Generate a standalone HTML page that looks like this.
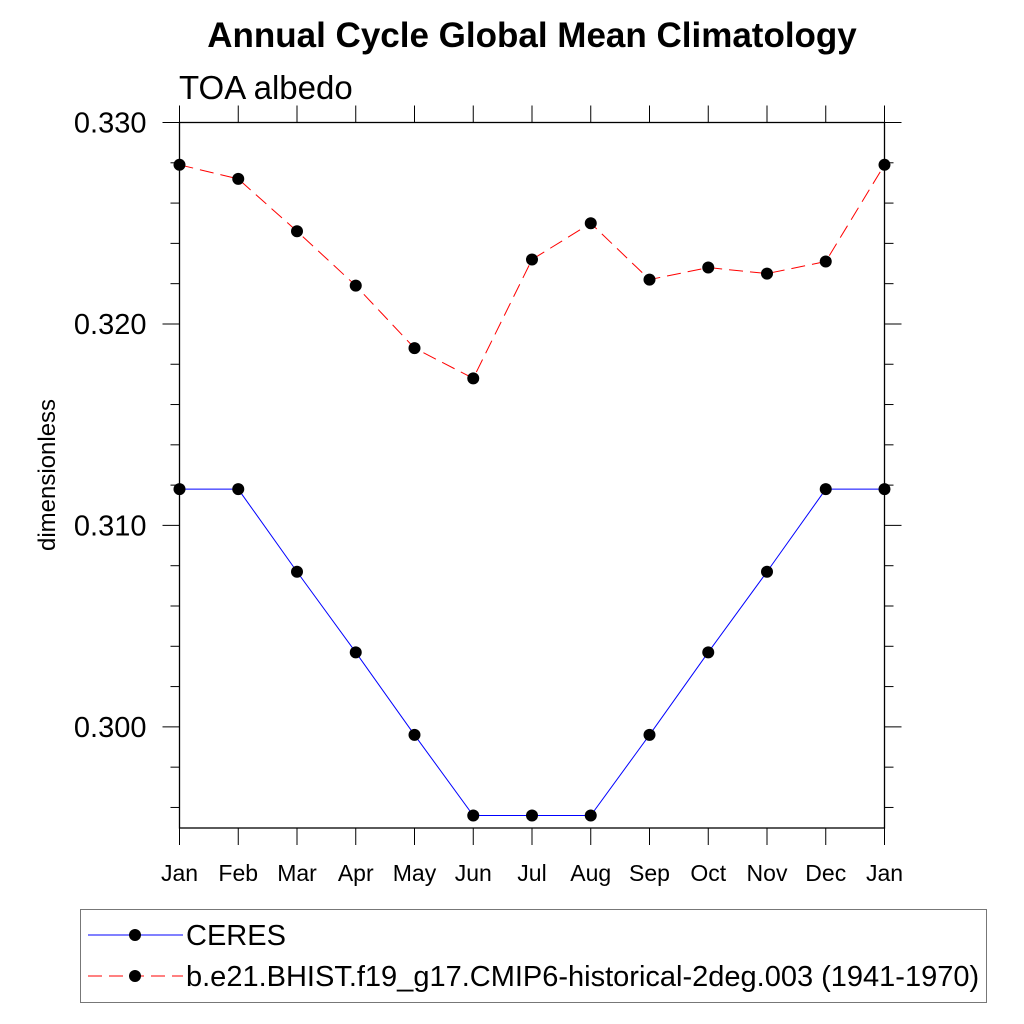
<!DOCTYPE html>
<html><head><meta charset="utf-8"><style>
html,body{margin:0;padding:0;background:#fff}
svg{display:block;font-family:"Liberation Sans",sans-serif}
</style></head><body>
<svg id="chart" width="1024" height="1024" xmlns="http://www.w3.org/2000/svg">
<text x="532" y="47" text-anchor="middle" font-size="35" font-weight="bold">Annual Cycle Global Mean Climatology</text>
<text x="179" y="99" font-size="33">TOA albedo</text>
<text transform="translate(55,475) rotate(-90)" text-anchor="middle" font-size="24">dimensionless</text>
<g id="axes"></g>
<g id="series"></g>
<g>
<rect x="80.5" y="909.5" width="906" height="93" fill="none" stroke="#777" stroke-width="1"/>
<line x1="88" y1="935" x2="183" y2="935" stroke="blue" stroke-width="1"/>
<circle cx="135" cy="935" r="6" fill="#000"/>
<text x="186" y="945" font-size="29">CERES</text>
<line x1="88" y1="976" x2="183" y2="976" stroke="red" stroke-width="1" stroke-dasharray="14,7"/>
<circle cx="135" cy="976" r="6" fill="#000"/>
<text x="186" y="986" font-size="29">b.e21.BHIST.f19_g17.CMIP6-historical-2deg.003 (1941-1970)</text>
</g>
</svg>
<script>
const months = ["Jan","Feb","Mar","Apr","May","Jun","Jul","Aug","Sep","Oct","Nov","Dec","Jan"];
const ceresValues = [0.3118,0.3118,0.3077,0.3037,0.2996,0.2956,0.2956,0.2956,0.2996,0.3037,0.3077,0.3118,0.3118];
const modelValues = [0.3279,0.3272,0.3246,0.3219,0.3188,0.3173,0.3232,0.3250,0.3222,0.3228,0.3225,0.3231,0.3279];
const yTickLabels = ["0.300","0.310","0.320","0.330"];
const yTickValues = [0.300,0.310,0.320,0.330];
const yMin = 0.29498, yMax = 0.330;

const L=179.5,R=884.5,T=122.5,B=828;
const NS="http://www.w3.org/2000/svg";
function xs(i){return L+(R-L)*i/(months.length-1);}
function ys(v){return B-(v-yMin)/(yMax-yMin)*(B-T);}
function mk(tag,attrs,parent){const e=document.createElementNS(NS,tag);for(const k in attrs)e.setAttribute(k,attrs[k]);parent.appendChild(e);return e;}
const ax=document.getElementById('axes');
const frame=mk('rect',{x:L,y:T,width:R-L,height:B-T,fill:'none',stroke:'#000','stroke-width':1.3},ax);


for(let v=0.296;v<0.3301;v+=0.002){
  const y=ys(v);
  const isMajor=yTickValues.some(t=>Math.abs(t-v)<1e-6);
  const len=isMajor?17:9;
  const t1=mk('line',{x1:L-len,y1:y,x2:L,y2:y,stroke:'#000','stroke-width':1},ax);
  
  
  const t2=mk('line',{x1:R,y1:y,x2:R+len,y2:y,stroke:'#000','stroke-width':1},ax);
  
  
}
yTickValues.forEach((v,i)=>{
  const t=mk('text',{x:L-33,y:ys(v)+10,'text-anchor':'end','font-size':29},ax);
  t.textContent=yTickLabels[i];
  
  
});
months.forEach((m,i)=>{
  const x=xs(i);
  const b=mk('line',{x1:x,y1:B,x2:x,y2:B+17,stroke:'#000','stroke-width':1},ax);
  
  
  const t=mk('line',{x1:x,y1:T-17,x2:x,y2:T,stroke:'#000','stroke-width':1},ax);
  
  
  const l=mk('text',{x:x,y:881,'text-anchor':'middle','font-size':23},ax);
  l.textContent=m;
  
  
});
const sg=document.getElementById('series');
function drawSeries(vals,color,dash,name){
  const pts=vals.map((v,i)=>xs(i)+','+ys(v)).join(' ');
  const pl=mk('polyline',{points:pts,fill:'none',stroke:color,'stroke-width':1,'stroke-dasharray':dash},sg);
  
  
  vals.forEach((v,i)=>{
    const c=mk('circle',{cx:xs(i),cy:ys(v),r:6,fill:'#000'},sg);
    
    
  });
}
drawSeries(ceresValues,'blue','none','ceres');
drawSeries(modelValues,'red','14,7','model');
</script>
</body></html>
